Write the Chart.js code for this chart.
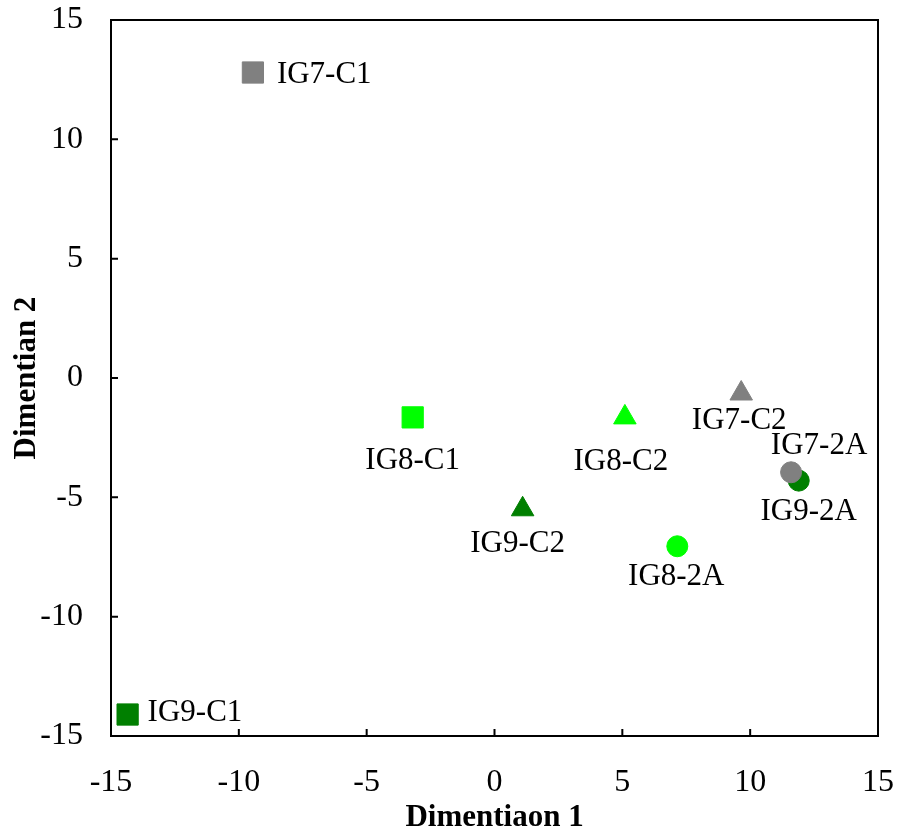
<!DOCTYPE html>
<html>
<head>
<meta charset="utf-8">
<script src="https://cdn.jsdelivr.net/npm/chart.js@4.4.1/dist/chart.umd.min.js"></script>
<style>
  html, body { margin: 0; padding: 0; background: #fff; }
  #wrap { width: 899px; height: 832px; }
</style>
</head>
<body>
<div id="wrap"><canvas id="mdsChart"></canvas></div>
<script>
// samples and their coordinates on the two dimensions
let samples = ["IG7-C1", "IG8-C1", "IG9-C1", "IG7-C2", "IG8-C2", "IG9-C2", "IG7-2A", "IG8-2A", "IG9-2A"];
let dim1 = [-9.45, -3.2, -14.35, 9.65, 5.1, 1.1, 11.6, 7.15, 11.9];
let dim2 = [12.8, -1.65, -14.1, -0.65, -1.65, -5.5, -3.95, -7.05, -4.3];
let groupColors = ["#808080", "#00ff00", "#007f00", "#808080", "#00ff00", "#007f00", "#808080", "#00ff00", "#007f00"];
let shapes = ["rect", "rect", "rect", "triangle", "triangle", "triangle", "circle", "circle", "circle"];
let axisTicks = [-15, -10, -5, 0, 5, 10, 15];

// where each name sits relative to its marker
let labelPlace = [
  { dx: 24, dy: 2, align: "left" },
  { dx: 0, dy: 43, align: "center" },
  { dx: 20, dy: -2, align: "left" },
  { dx: -2, dy: 27, align: "center" },
  { dx: -4, dy: 44, align: "center" },
  { dx: -5, dy: 35, align: "center" },
  { dx: 28, dy: -26, align: "center" },
  { dx: -1, dy: 31, align: "center" },
  { dx: 10, dy: 31, align: "center" }
];

let radii = { rect: 15, triangle: 13, circle: 10.5 };
let serif = "'Liberation Serif', 'DejaVu Serif', serif";

let datasets = samples.map((name, i) => ({
  label: name,
  data: [{ x: dim1[i], y: dim2[i] }],
  pointStyle: shapes[i],
  pointRadius: radii[shapes[i]],
  backgroundColor: groupColors[i],
  borderColor: groupColors[i],
  borderWidth: 1
}));

// frame box, inward tick marks and point names
let framePlugin = {
  id: "frame",
  afterDatasetsDraw(chart) {
    let ctx = chart.ctx;
    let a = chart.chartArea;
    let xs = chart.scales.x, ys = chart.scales.y;
    ctx.save();
    ctx.strokeStyle = "#000";
    ctx.lineWidth = 2;
    ctx.strokeRect(a.left, a.top, a.right - a.left, a.bottom - a.top);
    ctx.beginPath();
    axisTicks.forEach(v => {
      let px = xs.getPixelForValue(v);
      ctx.moveTo(px, a.bottom);
      ctx.lineTo(px, a.bottom - 7);
      let py = ys.getPixelForValue(v);
      ctx.moveTo(a.left, py);
      ctx.lineTo(a.left + 7, py);
    });
    ctx.stroke();

    ctx.fillStyle = "#000";
    ctx.font = "31px " + serif;
    ctx.textBaseline = "middle";
    samples.forEach((name, i) => {
      let p = labelPlace[i];
      ctx.textAlign = p.align;
      ctx.fillText(name, xs.getPixelForValue(dim1[i]) + p.dx, ys.getPixelForValue(dim2[i]) + p.dy);
    });
    ctx.restore();
  }
};

new Chart(document.getElementById("mdsChart"), {
  type: "scatter",
  data: { datasets: datasets },
  options: {
    responsive: true,
    maintainAspectRatio: false,
    animation: false,
    layout: { padding: { top: 20, right: 21, left: 0, bottom: 0 } },
    plugins: {
      legend: { display: false },
      tooltip: { enabled: false }
    },
    scales: {
      x: {
        min: -15, max: 15,
        afterBuildTicks: s => { s.ticks = axisTicks.map(v => ({ value: v })); },
        afterFit: s => { s.height = 96; s.paddingLeft = 0; s.paddingRight = 0; },
        grid: { display: false, drawTicks: false },
        border: { display: false },
        ticks: { color: "#000", padding: 27, font: { family: serif, size: 32 } },
        title: {
          display: true, text: "Dimentiaon 1", color: "#000",
          padding: { top: 0, bottom: -5 },
          font: { family: serif, size: 31, weight: "bold" }
        }
      },
      y: {
        min: -15, max: 15,
        afterBuildTicks: s => { s.ticks = axisTicks.map(v => ({ value: v })); },
        afterFit: s => { s.width = 111; s.paddingTop = 0; s.paddingBottom = 0; },
        grid: { display: false, drawTicks: false },
        border: { display: false },
        ticks: { color: "#000", padding: 28, font: { family: serif, size: 32 } },
        title: {
          display: true, text: "Dimentian 2", color: "#000",
          padding: { top: 8, bottom: 0 },
          font: { family: serif, size: 31, weight: "bold" }
        }
      }
    }
  },
  plugins: [framePlugin]
});
</script>
</body>
</html>
